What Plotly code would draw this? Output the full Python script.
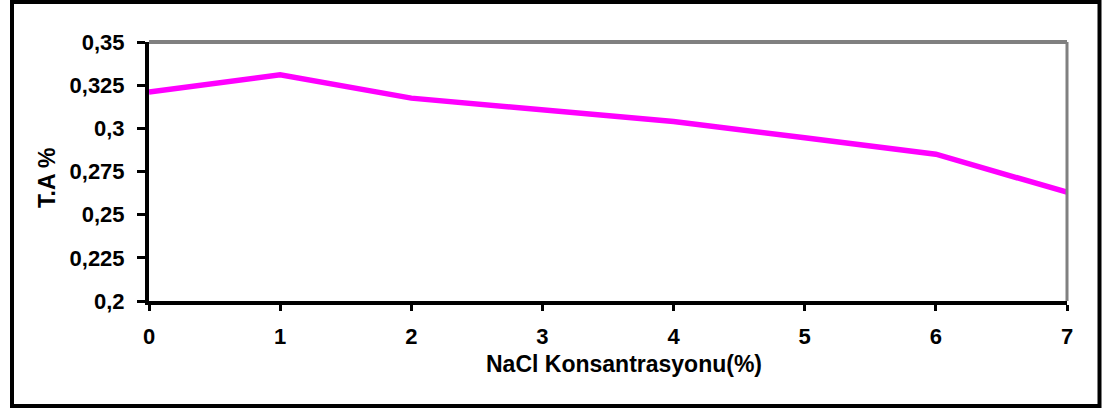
import plotly.graph_objects as go

nacl = [0, 1, 2, 3, 4, 5, 6, 7]
ta = [0.321, 0.331, 0.3175, 0.311, 0.304, 0.2945, 0.285, 0.263]
y_ticks = [0.2, 0.225, 0.25, 0.275, 0.3, 0.325, 0.35]
y_tick_text = ["0,2", "0,225", "0,25", "0,275", "0,3", "0,325", "0,35"]
x_title = "NaCl Konsantrasyonu(%)"
y_title = "T.A %"

W, H = 1103, 412
L, R, T, B = 149, 1067, 42, 301
pw, ph = R - L, B - T

def px(x):
    return (x - L) / pw

def py(y):
    return (B - y) / ph

tickfont = dict(size=22, family="Liberation Sans", weight="bold", color="black")
titlefont = dict(size=23, family="Liberation Sans", weight="bold", color="black")

fig = go.Figure()
fig.add_trace(go.Scatter(x=nacl, y=ta, mode="lines",
                         line=dict(color="#FF00FF", width=5.5), showlegend=False,
                         hoverinfo="skip"))

fig.update_layout(
    width=W, height=H,
    margin=dict(l=L, r=W - R, t=T, b=H - B, pad=0),
    paper_bgcolor="white", plot_bgcolor="white",
    font=dict(family="Liberation Sans, Arial, sans-serif", size=20, color="black"),
    xaxis=dict(range=[0, 7], tickvals=nacl, ticktext=[str(v) for v in nacl],
               showgrid=False, zeroline=False, showline=True, linecolor="black",
               linewidth=4, ticks="outside", ticklen=6, tickwidth=3,
               tickcolor="black", tickfont=tickfont,
               ticklabelstandoff=7, fixedrange=True),
    yaxis=dict(range=[0.2, 0.35], tickvals=y_ticks, ticktext=y_tick_text,
               showgrid=False, zeroline=False, showline=True, linecolor="black",
               linewidth=4, ticks="outside", ticklen=8, tickwidth=3,
               tickcolor="black", tickfont=tickfont,
               ticklabelstandoff=8, fixedrange=True),
    shapes=[
        dict(type="line", xref="paper", yref="paper", x0=0, x1=1, y0=1, y1=1,
             line=dict(color="#808080", width=4)),
        dict(type="line", xref="paper", yref="paper", x0=1, x1=1, y0=0, y1=1,
             line=dict(color="#808080", width=3)),
        dict(type="rect", xref="paper", yref="paper",
             x0=px(12), x1=px(1099.5), y0=py(2), y1=py(406),
             line=dict(color="black", width=4), fillcolor="rgba(0,0,0,0)"),
    ],
    annotations=[
        dict(text=x_title, xref="paper", yref="paper", x=px(624), y=py(364),
             xanchor="center", yanchor="middle", showarrow=False, font=titlefont),
        dict(text=y_title, xref="paper", yref="paper", x=px(47), y=py(178),
             xanchor="center", yanchor="middle", showarrow=False, textangle=-90,
             font=titlefont),
    ],
)

fig.write_html("out.html", config={"displayModeBar": False})
